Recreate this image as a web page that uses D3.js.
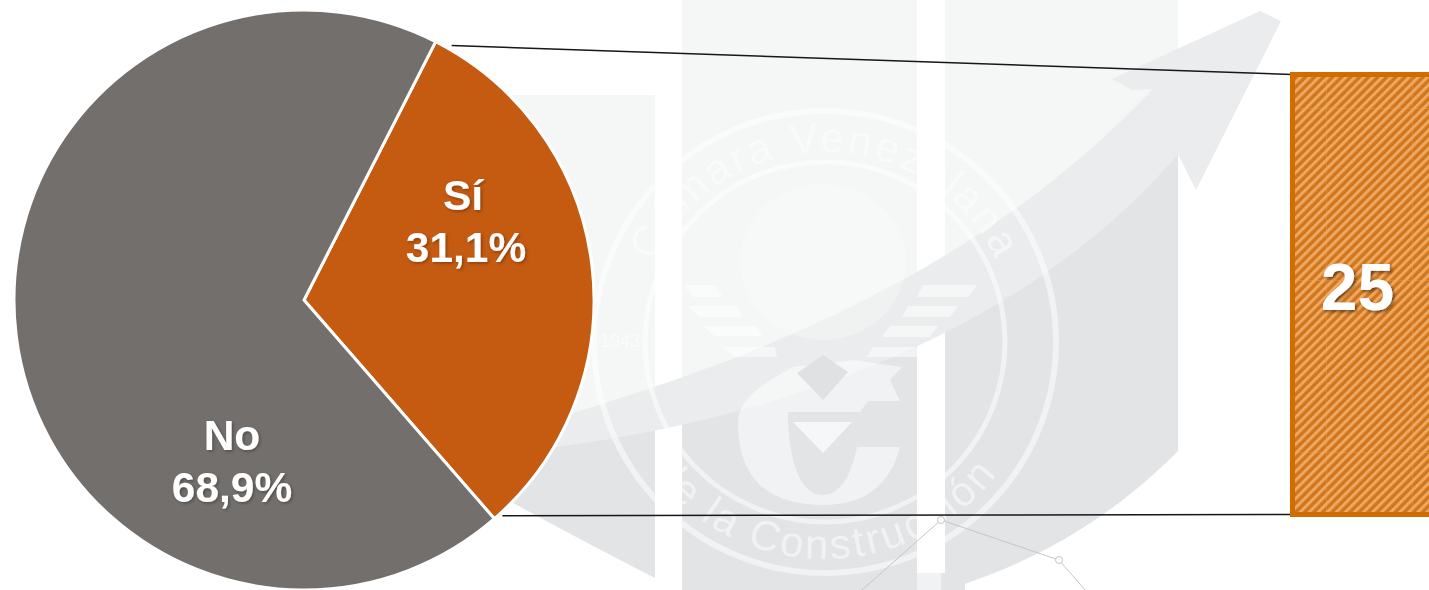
<!DOCTYPE html>
<html>
<head>
<meta charset="utf-8">
<script src="https://cdnjs.cloudflare.com/ajax/libs/d3/7.8.5/d3.min.js"></script>
<style>
  html, body { margin: 0; padding: 0; background: #fff; overflow: hidden; }
  svg { display: block; }
  text { font-family: "Liberation Sans", Arial, sans-serif; }
</style>
</head>
<body>
<div id="chart"></div>
<script>
/* DATA */
const categories = ["Sí", "No"];
const percents = [31.1, 68.9];
const detailValue = [25];

/* CONSTANTS */
const width = 1429,
  height = 590,
  cx = 304,
  cy = 300,
  radius = 290,
  startDeg = 27;

const colors = ["#c55a11", "#736f6c"];
const box = { x: 1292.5, y: 74.5, w: 150, h: 440 };

const svg = d3.select("#chart").append("svg")
  .attr("width", width)
  .attr("height", height);

const defs = svg.append("defs");

// hatch of the detail bar
const hatch = defs.append("pattern")
  .attr("id", "hatch")
  .attr("patternUnits", "userSpaceOnUse")
  .attr("width", 6.4)
  .attr("height", 6.4)
  .attr("patternTransform", "rotate(45)");
hatch.append("rect").attr("width", 6.4).attr("height", 6.4).attr("fill", "#d2761c");
hatch.append("rect").attr("width", 3).attr("height", 6.4).attr("fill", "#eda862");

defs.append("filter").attr("id", "soft")
  .append("feGaussianBlur").attr("stdDeviation", 0.6);

// lighter seams of the tiled picture
const seams = defs.append("pattern")
  .attr("id", "seams")
  .attr("patternUnits", "userSpaceOnUse")
  .attr("x", 1326).attr("y", 108)
  .attr("width", 86).attr("height", 172);
seams.append("path").attr("d", "M0.5 0V172M0 0.5H86")
  .attr("stroke", "#eba55f").attr("stroke-width", 1).attr("opacity", 0.35);

function dropShadow(id, dx, blur, opacity) {
  defs.append("filter").attr("id", id)
    .attr("x", "-20%").attr("y", "-20%").attr("width", "150%").attr("height", "150%")
    .append("feDropShadow")
    .attr("dx", dx).attr("dy", dx).attr("stdDeviation", blur)
    .attr("flood-color", "#000").attr("flood-opacity", opacity);
}
dropShadow("shadowSmall", 1.5, 1.5, 0.3);
dropShadow("shadow", 2, 1.5, 0.45);

/* WATERMARK */
const mark = svg.append("g");

defs.append("clipPath").attr("id", "cols")
  .append("path")
  .attr("d", "M500 95H655V578Q590 545 515 504L500 490Z" +
    "M682 0H917V600H682Z" +
    "M945 0H1178V451C1110 520 1030 565 945 590Z");

// dark lower part and light upper part of the columns
const cols = mark.append("g").attr("clip-path", "url(#cols)");
cols.append("rect").attr("width", width).attr("height", height).attr("fill", "#e2e4e6");
cols.append("path")
  .attr("d", "M480 440Q860 400 1178 130V0H480Z")
  .attr("fill", "#f5f6f6");

// swoosh arrow
mark.append("path")
  .attr("d", "M530 450C760 425 1020 340 1178 154L1196 190L1281 21L1260 11L1112 79L1132 90L1153 89C1000 250 800 350 530 425Z")
  .attr("fill", "#ebeced");

// seal
const seal = mark.append("g")
  .attr("transform", "translate(825,342)")
  .attr("fill", "none")
  .attr("stroke", "#fff")
  .attr("stroke-opacity", 0.5);
seal.append("circle").attr("r", 231).attr("stroke-width", 6);
seal.append("circle").attr("r", 180).attr("stroke-width", 5);

defs.append("path").attr("id", "sealTop").attr("d", "M-190 0A190 190 0 0 1 190 0");
defs.append("path").attr("id", "sealBottom").attr("d", "M-217 0A217 217 0 0 0 217 0");

const sealText = mark.append("g")
  .attr("transform", "translate(825,342)")
  .attr("fill", "#fff")
  .attr("fill-opacity", 0.55)
  .attr("font-size", 42)
  .attr("letter-spacing", 3)
  .attr("text-anchor", "middle");
sealText.append("text").append("textPath")
  .attr("href", "#sealTop").attr("startOffset", "50%")
  .text("Cámara Venezolana");
sealText.append("text").append("textPath")
  .attr("href", "#sealBottom").attr("startOffset", "50%")
  .text("de la Construcción");

mark.append("text")
  .attr("x", 600).attr("y", 347)
  .attr("font-size", 18)
  .attr("fill", "#fff").attr("fill-opacity", 0.6)
  .text("1943");

// logo in the middle of the seal
const logo = mark.append("g").attr("fill", "#fff").attr("fill-opacity", 0.5);
logo.append("ellipse")
  .attr("cx", 823).attr("cy", 262).attr("rx", 83).attr("ry", 78).attr("fill-opacity", 0.25);
logo.append("path")
  .attr("d", "M683 285H715L723 297H693Z" +
    "M687 306H738L742 317H700Z" +
    "M703 326H757L762 336H715Z" +
    "M722 347H775L777 357H735Z");
logo.append("path")
  .attr("d", "M923 285H977L968 297H917Z" +
    "M908 306H958L950 317H902Z" +
    "M890 326H938L930 337H882Z" +
    "M873 347H917V357H867Z");
logo.append("path")
  .attr("d", "M793 367C760 385 738 400 738 423C738 480 770 505 823 505C865 505 890 485 900 447H857" +
    "C850 480 838 495 823 495C800 495 788 460 788 412H860L868 401H900L890 380L902 367L853 360Z");
logo.append("path").attr("d", "M793 422H852L823 453Z").attr("fill-opacity", 0.7);
logo.append("path").attr("d", "M797 373L823 355L848 372L823 400Z").attr("fill", "#dfe1e3").attr("fill-opacity", 1);

// thin network at the foot
const net = mark.append("g").attr("fill", "#fff").attr("stroke", "#c4c6c8").attr("stroke-width", 1);
net.append("path").attr("fill", "none").attr("d", "M862 590L941 520L1059 560L1085 590");
net.append("circle").attr("cx", 941).attr("cy", 520).attr("r", 3.5);
net.append("circle").attr("cx", 1059).attr("cy", 560).attr("r", 3.5);
mark.append("rect").attr("x", 917).attr("y", 573).attr("width", 24).attr("height", 17).attr("fill", "#f1f2f3");
mark.append("rect").attr("x", 941).attr("y", 573).attr("width", 24).attr("height", 17).attr("fill", "#e2e4e6");

/* PIE */
const pie = d3.pie()
  .sort(null)
  .startAngle(startDeg * Math.PI / 180)
  .endAngle((startDeg + 360) * Math.PI / 180);

const arc = d3.arc().innerRadius(0).outerRadius(radius);
const slices = pie(percents);

const pieGroup = svg.append("g").attr("transform", `translate(${cx},${cy})`);

pieGroup.selectAll("path")
  .data(slices)
  .join("path")
  .attr("d", arc)
  .attr("fill", (d, i) => colors[i])
  .attr("stroke", "#fff")
  .attr("stroke-width", 3);

// label spots, measured from the centre of the pie
const labelOffset = [{ x: 162, y: -74, nameX: -3 }, { x: -72, y: 166, nameX: 0 }];

const labels = pieGroup.selectAll("g.label")
  .data(slices)
  .join("g")
  .attr("class", "label")
  .attr("transform", (d, i) => `translate(${labelOffset[i].x},${labelOffset[i].y})`)
  .attr("fill", "#fff")
  .attr("font-size", 42.5)
  .attr("font-weight", "bold")
  .attr("text-anchor", "middle")
  .attr("filter", "url(#shadowSmall)");

labels.append("text")
  .attr("x", (d, i) => labelOffset[i].nameX)
  .attr("y", -16)
  .text((d, i) => categories[i]);
labels.append("text").attr("y", 36)
  .text(d => d.data.toFixed(1).replace(".", ",") + "%");

/* CONNECTORS */
function edgePoint(angle) {
  return [cx + radius * Math.sin(angle), cy - radius * Math.cos(angle)];
}
const topEdge = edgePoint(slices[0].startAngle);
const bottomEdge = edgePoint(slices[0].endAngle);

const connectors = [
  [[topEdge[0] + 16, topEdge[1] + 4], [box.x, box.y]],
  [[bottomEdge[0] + 8, bottomEdge[1] - 3], [box.x, box.y + box.h]]
];

svg.selectAll("line.connector")
  .data(connectors)
  .join("line")
  .attr("class", "connector")
  .attr("x1", d => d[0][0])
  .attr("y1", d => d[0][1])
  .attr("x2", d => d[1][0])
  .attr("y2", d => d[1][1])
  .attr("stroke", "#15171c")
  .attr("stroke-width", 1.5);

/* DETAIL BAR */
const detail = svg.append("g");
detail.append("rect")
  .attr("x", box.x).attr("y", box.y)
  .attr("width", box.w).attr("height", box.h)
  .attr("fill", "url(#hatch)")
  .attr("filter", "url(#soft)");
detail.append("rect")
  .attr("x", box.x).attr("y", box.y)
  .attr("width", box.w).attr("height", box.h)
  .attr("fill", "url(#seams)");
detail.append("rect")
  .attr("x", box.x).attr("y", box.y)
  .attr("width", box.w).attr("height", box.h)
  .attr("fill", "none")
  .attr("stroke", "#d06c00")
  .attr("stroke-width", 5);

detail.selectAll("text")
  .data(detailValue)
  .join("text")
  .attr("x", 1357.5)
  .attr("y", 310)
  .attr("fill", "#fff")
  .attr("font-size", 66)
  .attr("font-weight", "bold")
  .attr("text-anchor", "middle")
  .attr("filter", "url(#shadow)")
  .text(d => d);
</script>
</body>
</html>
